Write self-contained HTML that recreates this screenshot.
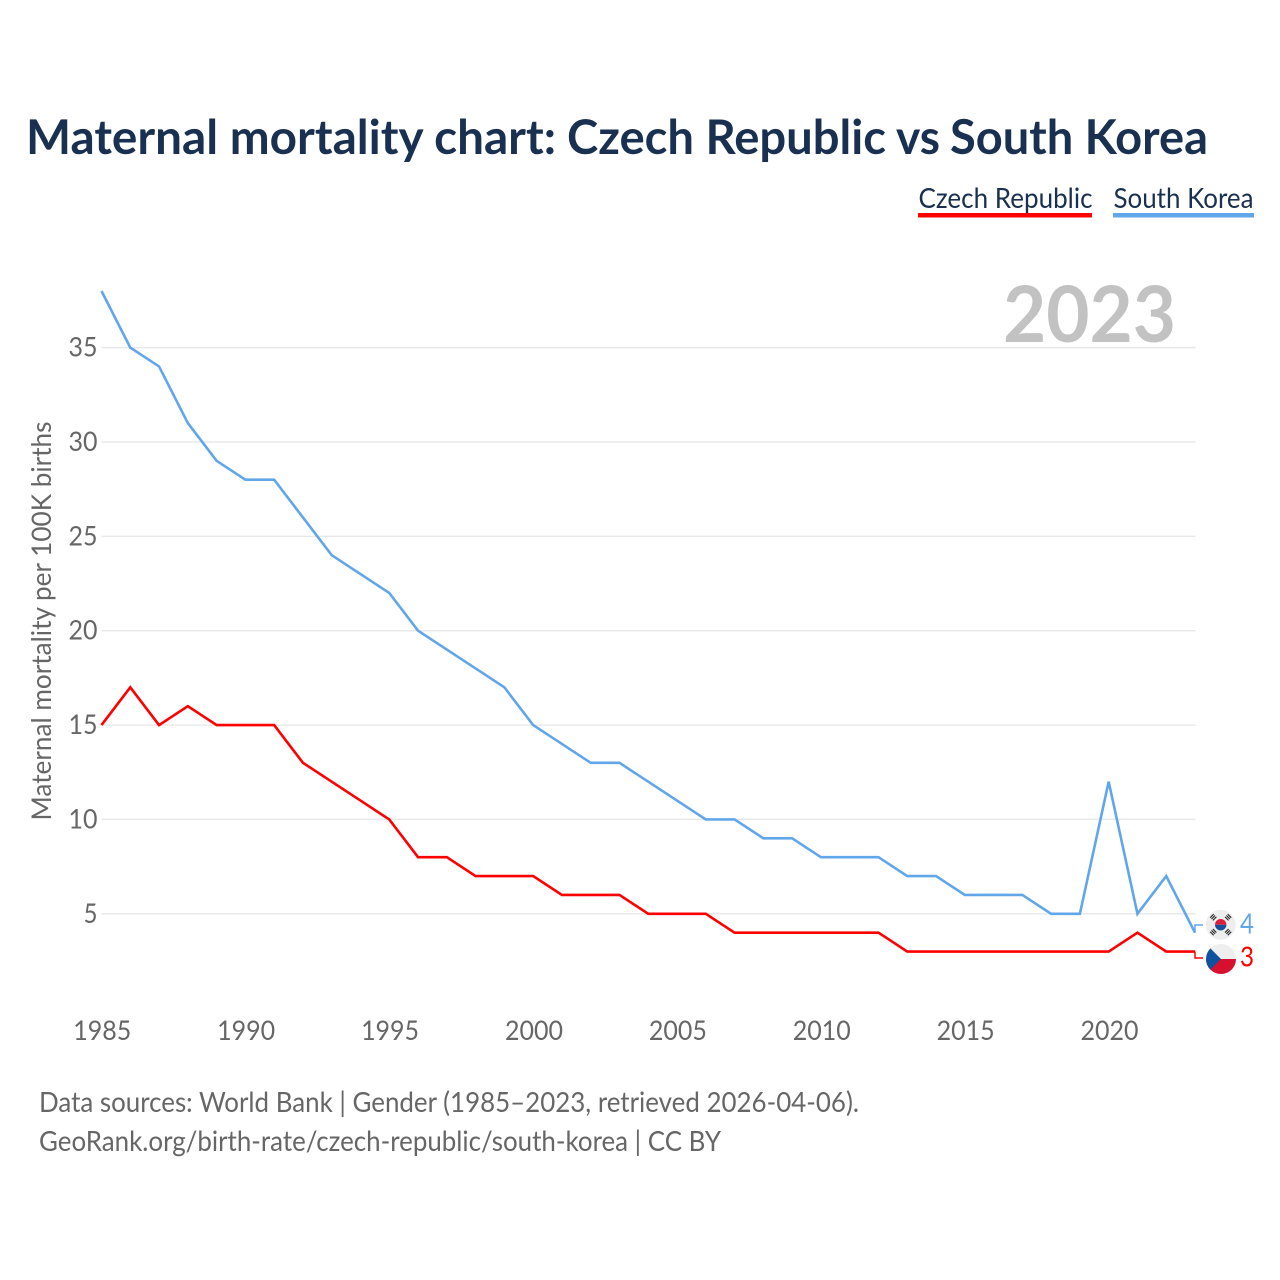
<!DOCTYPE html>
<html>
<head>
<meta charset="utf-8">
<title>Maternal mortality chart</title>
<style>
html,body{margin:0;padding:0;background:#fff;}
svg{display:block;}
text{font-family:"Lato","Carlito","Liberation Sans",sans-serif;}
</style>
</head>
<body>
<svg id="chart" width="1280" height="1280" viewBox="0 0 1280 1280" xmlns="http://www.w3.org/2000/svg">
<rect width="1280" height="1280" fill="#fff"/>
<text y="154" font-size="48" font-weight="700" fill="#1a3050"><tspan x="26" textLength="530" lengthAdjust="spacingAndGlyphs">Maternal mortality chart:</tspan> <tspan x="567" textLength="319" lengthAdjust="spacingAndGlyphs">Czech Republic</tspan> <tspan x="896" textLength="44" lengthAdjust="spacingAndGlyphs">vs</tspan> <tspan x="950" textLength="258" lengthAdjust="spacingAndGlyphs">South Korea</tspan></text>

<g>
<g>
<text x="918.5" y="208" font-size="28" fill="#1a3050" textLength="174" lengthAdjust="spacingAndGlyphs">Czech Republic</text>
<rect x="918" y="213" width="174" height="4.5" fill="#ff0000"/>
</g>
<g>
<text x="1113.5" y="208" font-size="28" fill="#1a3050" textLength="140" lengthAdjust="spacingAndGlyphs">South Korea</text>
<rect x="1113" y="213" width="141" height="4.5" fill="#62a6ea"/>
</g>
</g>

<g id="grid"></g>
<text x="1176" y="342" text-anchor="end" font-size="78" font-weight="700" fill="#c2c2c2" textLength="173" lengthAdjust="spacingAndGlyphs">2023</text>
<g id="y-ticks"></g>
<g id="x-ticks"></g>
<text transform="translate(51,820.5) rotate(-90)" font-size="27" fill="#666" textLength="399" lengthAdjust="spacingAndGlyphs">Maternal mortality per 100K births</text>

<g id="series"></g>

<defs>
<clipPath id="cz-clip"><circle cx="1221" cy="959" r="15"/></clipPath>
</defs>

<g id="kr-flag">
<circle cx="1220.7" cy="924.7" r="15" fill="#eeeeee"/>
<path d="M1215 924.7a5.7 5.7 0 0 1 11.4 0z" fill="#dc1f3a"/>
<path d="M1215 924.7a5.7 5.7 0 0 0 11.4 0z" fill="#1a4f9c"/>
<g stroke="#222" stroke-width="5" stroke-dasharray="1.1 0.8">
<path d="M1226.4 919L1229.9 915.5"/>
<path d="M1215 919L1211.5 915.5"/>
<path d="M1215 930.4L1211.5 933.9"/>
<path d="M1226.4 930.4L1229.9 933.9"/>
</g>
</g>
<g id="cz-flag" clip-path="url(#cz-clip)">
<rect x="1205" y="943" width="32" height="16" fill="#eeeeee"/>
<rect x="1205" y="959" width="32" height="16" fill="#d7102f"/>
<path d="M1205 943L1221 959L1205 975z" fill="#11529f"/>
</g>

<g id="end-labels"></g>

<g>
<text x="39" y="1112" font-size="28" fill="#666" textLength="820" lengthAdjust="spacingAndGlyphs">Data sources: World Bank | Gender (1985–2023, retrieved 2026-04-06).</text>
<text x="39" y="1151" font-size="28" fill="#666" textLength="682" lengthAdjust="spacingAndGlyphs">GeoRank.org/birth-rate/czech-republic/south-korea | CC BY</text>
</g>
</svg>

<script>
const years = [1985,1986,1987,1988,1989,1990,1991,1992,1993,1994,1995,1996,1997,1998,1999,2000,2001,2002,2003,2004,2005,2006,2007,2008,2009,2010,2011,2012,2013,2014,2015,2016,2017,2018,2019,2020,2021,2022,2023];
const southKorea = [38,35,34,31,29,28,28,26,24,23,22,20,19,18,17,15,14,13,13,12,11,10,10,9,9,8,8,8,7,7,6,6,6,5,5,12,5,7,4];
const czechRepublic = [15,17,15,16,15,15,15,13,12,11,10,8,8,7,7,7,6,6,6,5,5,5,4,4,4,4,4,4,3,3,3,3,3,3,3,3,4,3,3];
const yTicks = [5,10,15,20,25,30,35];
const xTicks = [1985,1990,1995,2000,2005,2010,2015,2020];

const NS = 'http://www.w3.org/2000/svg';
const xScale = function (year) { return 101.5 + (year - 1985) * (1195 - 101.5) / 38; };
const yScale = function (value) { return 913.8 - (value - 5) * (913.8 - 347.6) / 30; };

function make(tag, attrs, parent) {
  const el = document.createElementNS(NS, tag);
  Object.keys(attrs).forEach(function (k) { el.setAttribute(k, attrs[k]); });
  parent.appendChild(el);
  return el;
}

const grid = document.getElementById('grid');
const yGroup = document.getElementById('y-ticks');
yTicks.forEach(function (t) {
  const line = make('line', {x1: 101.5, x2: 1195.5, y1: yScale(t), y2: yScale(t), stroke: '#e9e9e9', 'stroke-width': 1.5}, grid);
  
  
  const label = make('text', {x: 97.5, y: yScale(t) + 9, 'text-anchor': 'end', 'font-size': 27, fill: '#666', textLength: 29, lengthAdjust: 'spacingAndGlyphs'}, yGroup);
  if (t < 10) { label.setAttribute('textLength', 14); }
  label.textContent = t;
  
  
});

const xGroup = document.getElementById('x-ticks');
xTicks.forEach(function (t) {
  const label = make('text', {x: xScale(t) + 0.8, y: 1040, 'text-anchor': 'middle', 'font-size': 27, fill: '#666', textLength: 58, lengthAdjust: 'spacingAndGlyphs'}, xGroup);
  label.textContent = t;
  
  
});

const seriesGroup = document.getElementById('series');
function drawSeries(values, color, name, labelY) {
  const points = values.map(function (v, i) { return xScale(years[i]).toFixed(2) + ',' + yScale(v).toFixed(2); }).join(' ');
  const line = make('polyline', {points: points, fill: 'none', stroke: color, 'stroke-width': 2.6, 'stroke-linejoin': 'miter'}, seriesGroup);
  
  
  const last = values[values.length - 1];
  const lx = xScale(years[years.length - 1]);
  const ly = yScale(last);
  const leader = make('polyline', {points: lx + ',' + ly + ' ' + lx + ',' + labelY + ' ' + (lx + 8) + ',' + labelY, fill: 'none', stroke: color, 'stroke-width': 1.5}, seriesGroup);
  
  
  const text = make('text', {x: 1240, y: labelY + 8.5, 'font-size': 28, fill: color, textLength: 14, lengthAdjust: 'spacingAndGlyphs'}, document.getElementById('end-labels'));
  text.textContent = last;
  
  
}
drawSeries(czechRepublic, '#ff0000', 'czech-republic', 958);
drawSeries(southKorea, '#62a6ea', 'south-korea', 925);
</script>
</body>
</html>
